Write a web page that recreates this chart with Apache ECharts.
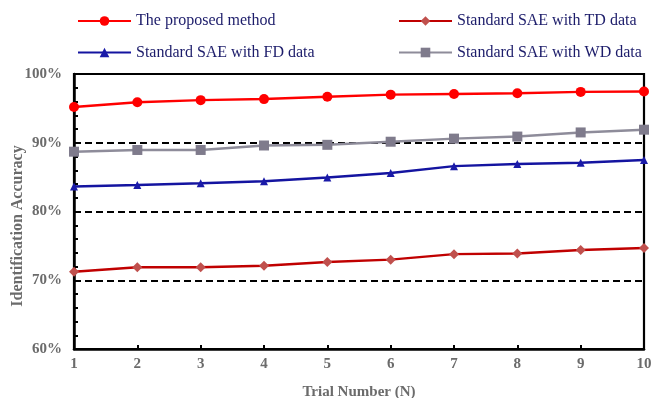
<!DOCTYPE html>
<html><head><meta charset="utf-8">
<script src="https://cdn.jsdelivr.net/npm/echarts@6/dist/echarts.min.js"></script>
<style>html,body{margin:0;padding:0;background:#fff}#c{width:654px;height:398px}</style>
</head><body><div id="c"></div>
<script>
const trials = ['1','2','3','4','5','6','7','8','9','10'];
const proposed = [95.2, 95.9, 96.2, 96.35, 96.7, 97.0, 97.1, 97.2, 97.4, 97.45];
const saeTD = [71.25, 71.9, 71.9, 72.1, 72.65, 73.0, 73.8, 73.9, 74.4, 74.7];
const saeFD = [83.65, 83.85, 84.1, 84.4, 84.95, 85.6, 86.6, 86.9, 87.1, 87.5];
const saeWD = [88.7, 88.95, 88.95, 89.6, 89.7, 90.15, 90.6, 90.9, 91.5, 91.9];
const names = ['The proposed method','Standard SAE with TD data','Standard SAE with FD data','Standard SAE with WD data'];

const FONT = 'Liberation Serif';
const GRAY = '#6b6b6b';
const chart = echarts.init(document.getElementById('c'), null, {renderer:'canvas'});
const legendText = {fontFamily: FONT, fontSize: 16, color: '#1c1c6a'};
chart.setOption({
  animation: false,
  backgroundColor: '#fff',
  grid: {left: 74, right: 10, top: 74, bottom: 49, containLabel: false, outerBoundsMode: 'none',
         show: true, borderColor: '#000', borderWidth: 2.2, backgroundColor: 'transparent'},
  legend: [
    {data: [names[0], names[2]], orient: 'vertical', left: 77, top: 13, itemWidth: 53, itemHeight: 12, itemGap: 15.5, textStyle: legendText, padding: 0},
    {data: [names[1], names[3]], orient: 'vertical', left: 398, top: 13, itemWidth: 53, itemHeight: 12, itemGap: 15.5, textStyle: legendText, padding: 0}
  ],
  graphic: [{
    type: 'text', x: 18, y: 226, rotation: Math.PI/2,
    style: {text: 'Identification Accuracy', fontFamily: FONT, fontSize: 16, fontWeight: 'bold', fill: GRAY, textAlign: 'center', textVerticalAlign: 'middle'}
  }],
  xAxis: {
    type: 'category', data: trials, boundaryGap: false,
    name: 'Trial Number (N)', nameLocation: 'middle', nameGap: 36,
    nameTextStyle: {fontFamily: FONT, fontSize: 15, fontWeight: 'bold', color: GRAY},
    axisLine: {show: true, lineStyle: {color: '#000', width: 2.5}},
    axisTick: {show: true, inside: true, length: 4, lineStyle: {color: '#000', width: 2}},
    axisLabel: {fontFamily: FONT, fontSize: 15, fontWeight: 'bold', color: GRAY, margin: 8},
    splitLine: {show: false}
  },
  yAxis: {
    type: 'value', min: 60, max: 100, interval: 10,
    axisLine: {show: true, lineStyle: {color: '#000', width: 2.5}},
    axisTick: {show: true, inside: true, length: 4, lineStyle: {color: '#000', width: 2}},
    minorTick: {show: true, splitNumber: 5, length: 4, lineStyle: {color: '#000', width: 2}},
    axisLabel: {fontFamily: FONT, fontSize: 15, fontWeight: 'bold', color: GRAY, margin: 12, formatter: v => v + '%'},
    splitLine: {show: true, lineStyle: {color: '#000', width: 2, type: [7, 4]}}
  },
  series: [
    {name: names[3], type: 'line', data: saeWD, symbol: 'rect', symbolSize: 10,
     lineStyle: {color: '#8e8c9a', width: 2.5}, itemStyle: {color: '#7f7b8c'}},
    {name: names[2], type: 'line', data: saeFD, symbol: 'triangle', symbolSize: 8,
     lineStyle: {color: '#1414a0', width: 2.5}, itemStyle: {color: '#1a1aa8'}},
    {name: names[1], type: 'line', data: saeTD, symbol: 'diamond', symbolSize: 10,
     lineStyle: {color: '#c00000', width: 2.5}, itemStyle: {color: '#c0504d'}},
    {name: names[0], type: 'line', data: proposed, symbol: 'circle', symbolSize: 10,
     lineStyle: {color: '#ff0000', width: 2.5}, itemStyle: {color: '#ff0000'}}
  ]
});
</script></body></html>
